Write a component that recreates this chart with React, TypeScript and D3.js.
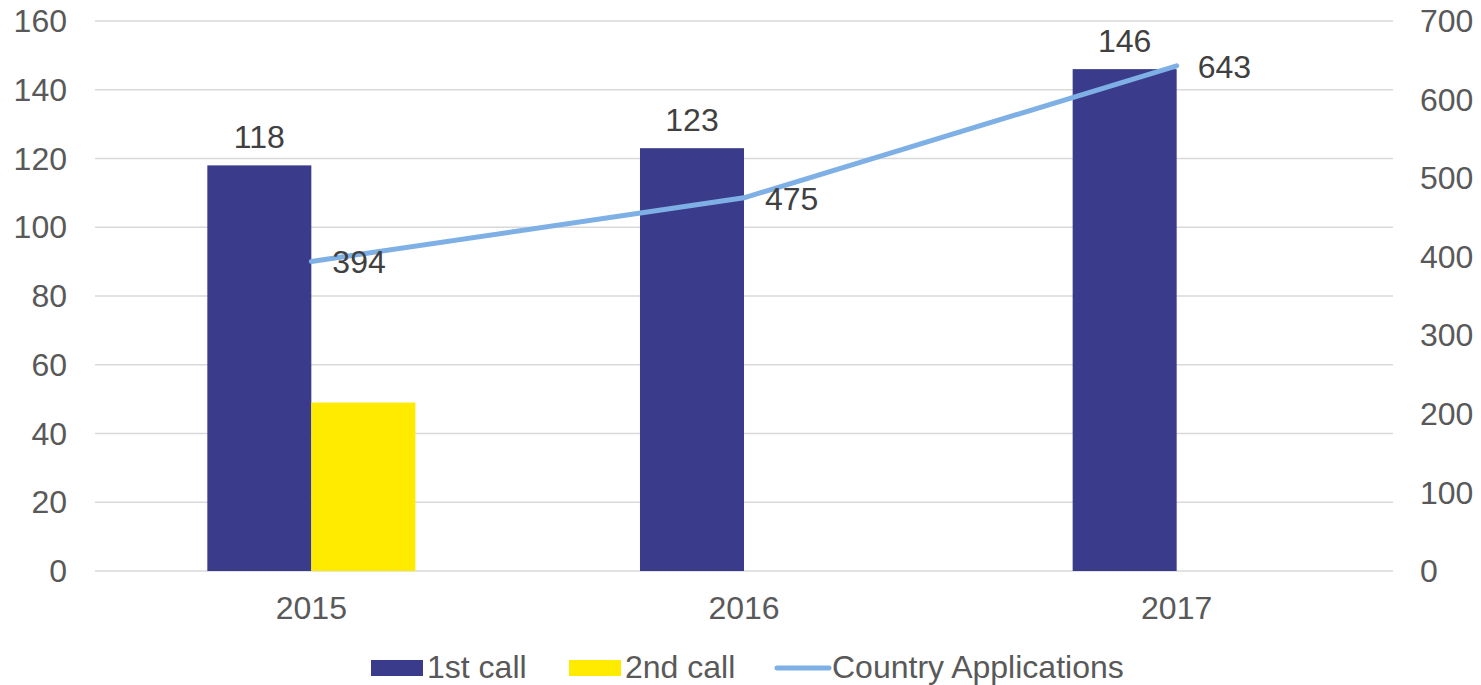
import { useMemo } from "react";
import * as d3 from "d3";

const years = ["2015", "2016", "2017"];
const firstCall = [118, 123, 146];
const secondCall: (number | null)[] = [49, null, null];
const countryApps = [394, 475, 643];
const leftTicks = [0, 20, 40, 60, 80, 100, 120, 140, 160];
const rightTicks = [0, 100, 200, 300, 400, 500, 600, 700];

const W = 1481;
const H = 685;
const FONT = "'Liberation Sans', Arial, sans-serif";
const FS = 32;
const TEXT = "#595959";
const LABEL = "#404040";
const NAVY = "#3a3c8b";
const YELLOW = "#ffeb00";
const LINE = "#7eb0e6";

export default function App() {
  const plot = { left: 95, right: 1393, top: 21, bottom: 571 };

  const x0 = useMemo(
    () => d3.scaleBand<string>().domain(years).range([plot.left, plot.right]),
    []
  );
  const x1 = useMemo(
    () =>
      d3
        .scaleBand<string>()
        .domain(["first", "second"])
        .range([0, x0.bandwidth()])
        .paddingOuter(1.08),
    [x0]
  );
  const yL = d3.scaleLinear().domain([0, 160]).range([plot.bottom, plot.top]);
  const yR = d3.scaleLinear().domain([0, 700]).range([plot.bottom, plot.top]);

  const cx = (y: string) => (x0(y) ?? 0) + x0.bandwidth() / 2;
  const linePath = d3
    .line<number>()
    .x((_, i) => cx(years[i]))
    .y((d) => yR(d))(countryApps);

  return (
    <svg width={W} height={H} style={{ position: "absolute", left: 0, top: 0, background: "#fff" }} fontFamily={FONT}>
      {/* gridlines */}
      {leftTicks.map((t) => (
        <line key={t} x1={plot.left} x2={plot.right} y1={yL(t)} y2={yL(t)} stroke="#d9d9d9" strokeWidth={1.5} />
      ))}
      {leftTicks.map((t) => (
        <text key={"l" + t} x={67} y={yL(t)} dy="0.35em" textAnchor="end" fontSize={FS} fill={TEXT}>
          {t}
        </text>
      ))}
      {rightTicks.map((t) => (
        <text key={"r" + t} x={1420} y={yR(t)} dy="0.35em" textAnchor="start" fontSize={FS} fill={TEXT}>
          {t}
        </text>
      ))}
      {years.map((y) => (
        <text key={"x" + y} x={cx(y)} y={619} textAnchor="middle" fontSize={FS} fill={TEXT}>
          {y}
        </text>
      ))}

      {/* bars */}
      {years.map((y, i) => {
        const bx = (x0(y) ?? 0) + (x1("first") ?? 0);
        const bw = x1.bandwidth();
        const s2 = secondCall[i];
        return (
          <g key={"b" + y}>
            <rect x={bx} y={yL(firstCall[i])} width={bw} height={yL(0) - yL(firstCall[i])} fill={NAVY} />
            <text x={bx + bw / 2} y={yL(firstCall[i]) - 17.5} textAnchor="middle" fontSize={FS} fill={LABEL}>
              {firstCall[i]}
            </text>
            {s2 != null && (
              <rect
                x={(x0(y) ?? 0) + (x1("second") ?? 0)}
                y={yL(s2)}
                width={bw}
                height={yL(0) - yL(s2)}
                fill={YELLOW}
              />
            )}
          </g>
        );
      })}

      {/* line */}
      <path d={linePath ?? ""} fill="none" stroke={LINE} strokeWidth={5} strokeLinecap="round" />
      {countryApps.map((v, i) => (
        <text key={"c" + i} x={cx(years[i]) + 21} y={yR(v) + 12} fontSize={FS} fill={LABEL}>
          {v}
        </text>
      ))}

      {/* legend */}
      <rect x={371} y={660} width={52} height={16} fill={NAVY} />
      <text x={427} y={678} fontSize={FS} fill={TEXT}>1st call</text>
      <rect x={569} y={660} width={52} height={16} fill={YELLOW} />
      <text x={625} y={678} fontSize={FS} fill={TEXT}>2nd call</text>
      <line x1={777} x2={829} y1={668} y2={668} stroke={LINE} strokeWidth={5} strokeLinecap="round" />
      <text x={832} y={678} fontSize={FS} fill={TEXT}>Country Applications</text>
    </svg>
  );
}
